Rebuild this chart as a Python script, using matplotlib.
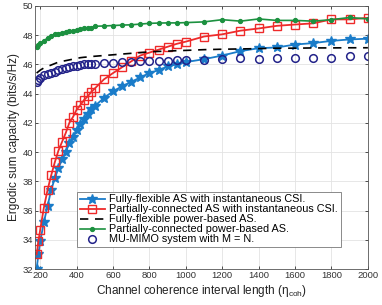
import matplotlib
matplotlib.use('Agg')
import matplotlib.pyplot as plt

# coherence interval lengths
eta = [180, 190, 200, 220, 240, 260, 280, 300, 320, 340, 360, 380, 400, 420, 440, 460, 480, 500,
       550, 600, 650, 700, 750, 800, 850, 900, 950, 1000,
       1100, 1200, 1300, 1400, 1500, 1600, 1700, 1800, 1900, 2000]

fullyInst = [32.0, 33.0, 33.9, 35.2, 36.3, 37.4, 38.2, 38.9, 39.5, 40.0, 40.6, 41.05, 41.5, 41.9, 42.25, 42.6, 42.95, 43.15,
             43.7, 44.15, 44.5, 44.8, 45.1, 45.4, 45.6, 45.85, 46.0, 46.15,
             46.35, 46.6, 46.9, 47.1, 47.15, 47.35, 47.45, 47.6, 47.7, 47.75]

partialInst = [33.0, 33.9, 34.7, 36.2, 37.4, 38.4, 39.3, 40.1, 40.7, 41.3, 42.0, 42.4, 42.9, 43.2, 43.55, 43.8, 44.1, 44.35,
               44.97, 45.4, 45.8, 46.2, 46.6, 46.8, 47.0, 47.2, 47.4, 47.55,
               47.9, 48.05, 48.3, 48.45, 48.63, 48.72, 48.8, 49.07, 49.07, 49.18]

fullyPower = [45.4, 45.5, 45.6, 45.75, 45.85, 45.95, 46.05, 46.15, 46.2, 46.25, 46.3, 46.35, 46.4, 46.45, 46.48, 46.5, 46.53, 46.55,
              46.6, 46.65, 46.7, 46.75, 46.8, 46.85, 46.88, 46.9, 46.93, 46.95,
              47.0, 47.03, 47.05, 47.07, 47.1, 47.1, 47.12, 47.12, 47.13, 47.13]

partialPower = [47.15, 47.35, 47.45, 47.6, 47.8, 47.95, 48.05, 48.1, 48.15, 48.2, 48.25, 48.3, 48.35, 48.4, 48.45, 48.45, 48.5, 48.6,
                48.62, 48.65, 48.68, 48.7, 48.75, 48.8, 48.82, 48.83, 48.83, 48.85,
                48.9, 49.05, 48.95, 49.1, 49.0, 49.0, 48.95, 49.05, 49.2, 49.1]

muMimo = [44.8, 44.95, 45.05, 45.3, 45.35, 45.4, 45.5, 45.6, 45.7, 45.75, 45.8, 45.85, 45.85, 45.95, 46.0, 46.0, 46.0, 46.05,
          46.1, 46.1, 46.15, 46.15, 46.2, 46.2, 46.2, 46.25, 46.3, 46.3,
          46.3, 46.35, 46.4, 46.35, 46.4, 46.4, 46.4, 46.45, 46.6, 46.6]

labels = ['Fully-flexible AS with instantaneous CSI.',
          'Partially-connected AS with instantaneous CSI.',
          'Fully-flexible power-based AS.',
          'Partially-connected power-based AS.',
          'MU-MIMO system with M = N.']

xticks = list(range(200, 2001, 200))
yticks = list(range(32, 51, 2))


def main():
    plt.rcParams['font.family'] = ['Liberation Sans', 'DejaVu Sans']
    plt.rcParams['mathtext.fontset'] = 'custom'
    plt.rcParams['mathtext.rm'] = 'Liberation Sans'
    plt.rcParams['mathtext.it'] = 'Liberation Sans'
    fig = plt.figure(figsize=(3.82, 3.05), dpi=100)
    ax = fig.add_axes([0.092, 0.118, 0.871, 0.863])

    ax.plot(eta, fullyInst, color='#1a7cc9', marker='*', markersize=7, linewidth=1.3, label=labels[0])
    ax.plot(eta, partialInst, color='#ee2a2a', marker='s', markersize=5.5, markerfacecolor='none',
            markeredgewidth=1.0, linewidth=1.3, label=labels[1])
    ax.plot(eta, fullyPower, color='black', linestyle=(0, (5, 4)), linewidth=1.2, label=labels[2])
    ax.plot(eta, partialPower, color='#1c9140', marker='o', markersize=2.8, linewidth=1.2, label=labels[3])
    ax.plot(eta, muMimo, color='#23238a', marker='o', markersize=5.5, markerfacecolor='none',
            markeredgewidth=1.1, linestyle='none', label=labels[4])

    ax.set_xlim(172, 2000)
    ax.set_ylim(32, 50)
    ax.set_xticks(xticks)
    ax.set_yticks(yticks)
    ax.tick_params(direction='in', length=2.5, width=0.6, labelsize=6.8, top=True, right=True,
                   colors='#333333', pad=1.5)
    ax.grid(True, color='#e3e3e3', linewidth=0.6)
    ax.set_axisbelow(True)
    for s in ax.spines.values():
        s.set_color('#555555')
        s.set_linewidth(0.6)

    ax.set_xlabel('Channel coherence interval length ($\\eta_{\\rm coh}$)', fontsize=8.5, color='#222222', labelpad=2)
    ax.set_ylabel('Ergodic sum capacity (bits/s/Hz)', fontsize=8.5, color='#222222', labelpad=2)

    leg = ax.legend(loc='lower right', bbox_to_anchor=(0.918, 0.083), fontsize=7.8, labelspacing=0.0,
                    handlelength=2.3, handletextpad=0.4, borderpad=0.25, borderaxespad=0, fancybox=False,
                    framealpha=1)
    leg.get_frame().set_edgecolor('#777777')
    leg.get_frame().set_linewidth(0.6)

    fig.savefig('out.png', dpi=100)


if __name__ == '__main__':
    main()
